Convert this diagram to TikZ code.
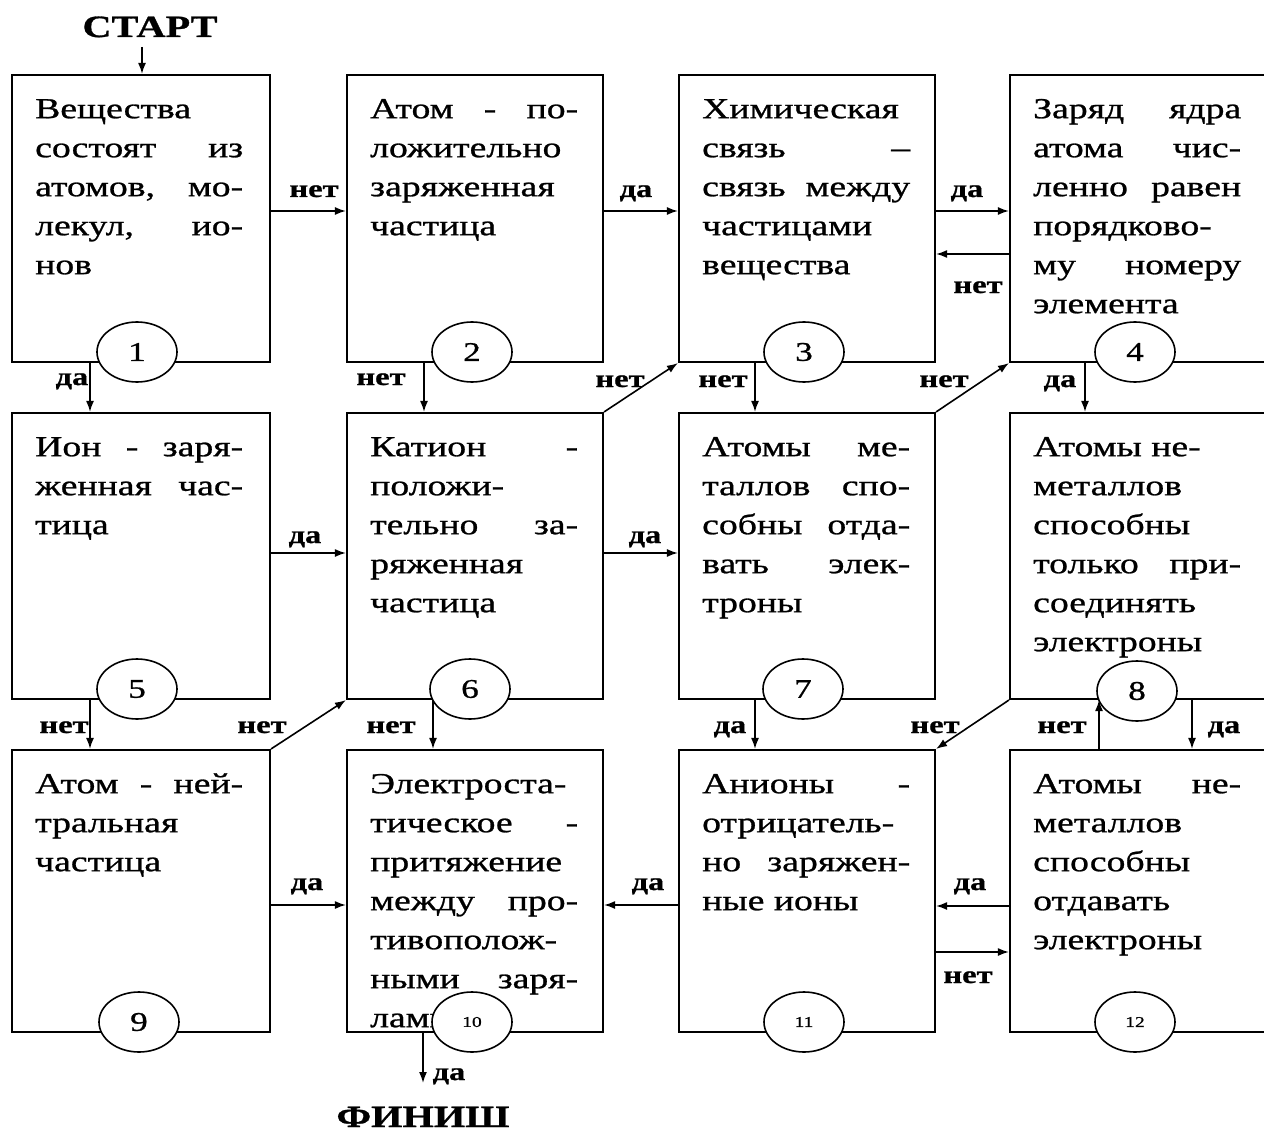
\documentclass[tikz,border=0pt]{standalone}
\usepackage{fontspec}
\setmainfont{Liberation Serif}[FakeStretch=1.3,FakeBold=0.9]
\usetikzlibrary{arrows.meta,shapes.geometric}
\tolerance=10000
\hyphenpenalty=10000
\newcommand\topstrut{\rule{0pt}{22pt}}
\begin{document}
\begin{tikzpicture}[x=1pt,y=-1pt,
 box/.style={draw, line width=2.1pt, inner sep=0pt, rectangle},
 txt/.style={anchor=north west, inner sep=0pt, text width=208pt, align=justify,
   font=\fontsize{29}{39}\selectfont},
 num/.style={draw, ellipse, fill=white, line width=1.6pt, minimum width=80pt,
   minimum height=60pt, inner sep=0pt, font=\fontsize{27}{27}\selectfont},
 smallnum/.style={num, font=\fontsize{15}{15}\selectfont},
 lbl/.style={anchor=base, inner sep=0pt, font=\bfseries\fontsize{25}{25}\selectfont},
 big/.style={anchor=base, inner sep=0pt, font=\bfseries\fontsize{31}{31}\selectfont},
 arr/.style={-{Latex[length=11pt,width=8pt]}, line width=1.6pt}
]
\useasboundingbox (0,0) rectangle (1264,1134);
\fill[white] (0,0) rectangle (1264,1134);

% boxes
\node[box, minimum width=258pt, minimum height=287pt] (b1) at (141,218.5) {};
\node[box, minimum width=256pt, minimum height=287pt] (b2) at (475,218.5) {};
\node[box, minimum width=256pt, minimum height=287pt] (b3) at (807,218.5) {};
\node[box, minimum width=260pt, minimum height=287pt] (b4) at (1140,218.5) {};
\node[box, minimum width=258pt, minimum height=286pt] (b5) at (141,556) {};
\node[box, minimum width=256pt, minimum height=286pt] (b6) at (475,556) {};
\node[box, minimum width=256pt, minimum height=286pt] (b7) at (807,556) {};
\node[box, minimum width=260pt, minimum height=286pt] (b8) at (1140,556) {};
\node[box, minimum width=258pt, minimum height=282pt] (b9) at (141,891) {};
\node[box, minimum width=256pt, minimum height=282pt] (b10) at (475,891) {};
\node[box, minimum width=256pt, minimum height=282pt] (b11) at (807,891) {};
\node[box, minimum width=260pt, minimum height=282pt] (b12) at (1140,891) {};

% texts
\node[txt] (t1) at (35,96) {\topstrut Вещества\linebreak состоят из\linebreak атомов, мо-\linebreak лекул, ио-\linebreak нов};
\node[txt] (t2) at (370,96) {\topstrut Атом - по-\linebreak ложительно\linebreak заряженная\linebreak частица};
\node[txt] (t3) at (702,96) {\topstrut Химическая\linebreak связь –\linebreak связь между\linebreak частицами\linebreak вещества};
\node[txt] (t4) at (1033,96) {\topstrut Заряд ядра\linebreak атома чис-\linebreak ленно равен\linebreak порядково-\linebreak му номеру\linebreak элемента};
\node[txt] (t5) at (35,434) {\topstrut Ион - заря-\linebreak женная час-\linebreak тица};
\node[txt] (t6) at (370,434) {\topstrut Катион -\linebreak положи-\linebreak тельно за-\linebreak ряженная\linebreak частица};
\node[txt] (t7) at (702,434) {\topstrut Атомы ме-\linebreak таллов спо-\linebreak собны отда-\linebreak вать элек-\linebreak троны};
\node[txt] (t8) at (1033,434) {\topstrut Атомы не-\newline металлов\linebreak способны\linebreak только при-\linebreak соединять\linebreak электроны};
\node[txt] (t9) at (35,771) {\topstrut Атом - ней-\linebreak тральная\linebreak частица};
\node[txt] (t10) at (370,771) {\topstrut Электроста-\linebreak тическое -\linebreak притяжение\linebreak между про-\linebreak тивополож-\linebreak ными заря-\linebreak лами};
\node[txt] (t11) at (702,771) {\topstrut Анионы -\linebreak отрицатель-\linebreak но заряжен-\linebreak ные ионы};
\node[txt] (t12) at (1033,771) {\topstrut Атомы не-\linebreak металлов\linebreak способны\linebreak отдавать\linebreak электроны};

% numbered circles
\node[num] (c1) at (137,352) {1};
\node[num] (c2) at (472,352) {2};
\node[num] (c3) at (804,352) {3};
\node[num] (c4) at (1135,352) {4};
\node[num] (c5) at (137,689) {5};
\node[num] (c6) at (470,689) {6};
\node[num] (c7) at (803,689) {7};
\node[num] (c8) at (1137,691) {8};
\node[num] (c9) at (139,1022) {9};
\node[smallnum] (c10) at (472,1022) {10};
\node[smallnum] (c11) at (804,1022) {11};
\node[smallnum] (c12) at (1135,1022) {12};

% start / finish
\node[big] (start) at (150,37) {СТАРТ};
\node[big] (finish) at (423,1127) {ФИНИШ};
\coordinate (s) at (142,47);
\coordinate (f) at (423,1083);

% connectors
\draw[arr] (s) -- (b1.north -| 142,0);
\draw[arr] (b1.east |- 0,211) -- (b2.west |- 0,211);
\draw[arr] (b2.east |- 0,211) -- (b3.west |- 0,211);
\draw[arr] (b3.east |- 0,211) -- (b4.west |- 0,211);
\draw[arr] (b4.west |- 0,254) -- (b3.east |- 0,254);
\draw[arr] (b1.south -| 90,0) -- (b5.north -| 90,0);
\draw[arr] (b2.south -| 424,0) -- (b6.north -| 424,0);
\draw[arr] (b6.north east) -- (b3.south west);
\draw[arr] (b3.south -| 755,0) -- (b7.north -| 755,0);
\draw[arr] (b7.north east) -- (b4.south west);
\draw[arr] (b4.south -| 1085,0) -- (b8.north -| 1085,0);
\draw[arr] (b5.east |- 0,553) -- (b6.west |- 0,553);
\draw[arr] (b6.east |- 0,553) -- (b7.west |- 0,553);
\draw[arr] (b5.south -| 90,0) -- (b9.north -| 90,0);
\draw[arr] (b9.north east) -- (b6.south west);
\draw[arr] (b6.south -| 433,0) -- (b10.north -| 433,0);
\draw[arr] (b7.south -| 755,0) -- (b11.north -| 755,0);
\draw[arr] (b8.south west) -- (b11.north east);
\draw[arr] (b12.north -| 1099,0) -- (b8.south -| 1099,0);
\draw[arr] (b8.south -| 1192,0) -- (b12.north -| 1192,0);
\draw[arr] (b9.east |- 0,905) -- (b10.west |- 0,905);
\draw[arr] (b11.west |- 0,905) -- (b10.east |- 0,905);
\draw[arr] (b12.west |- 0,906) -- (b11.east |- 0,906);
\draw[arr] (b11.east |- 0,952) -- (b12.west |- 0,952);
\draw[arr] (b10.south -| 423,0) -- (f);

% labels
\node[lbl] at (314,197) {нет};
\node[lbl] at (636,197) {да};
\node[lbl] at (967,197) {да};
\node[lbl] at (978,293) {нет};
\node[lbl] at (72,385) {да};
\node[lbl] at (381,385) {нет};
\node[lbl] at (620,387) {нет};
\node[lbl] at (723,387) {нет};
\node[lbl] at (944,387) {нет};
\node[lbl] at (1060,387) {да};
\node[lbl] at (305,543) {да};
\node[lbl] at (645,543) {да};
\node[lbl] at (64,733) {нет};
\node[lbl] at (262,733) {нет};
\node[lbl] at (391,733) {нет};
\node[lbl] at (730,733) {да};
\node[lbl] at (935,733) {нет};
\node[lbl] at (1062,733) {нет};
\node[lbl] at (1224,733) {да};
\node[lbl] at (307,890) {да};
\node[lbl] at (648,890) {да};
\node[lbl] at (970,890) {да};
\node[lbl] at (968,983) {нет};
\node[lbl] at (449,1080) {да};
\end{tikzpicture}
\end{document}
